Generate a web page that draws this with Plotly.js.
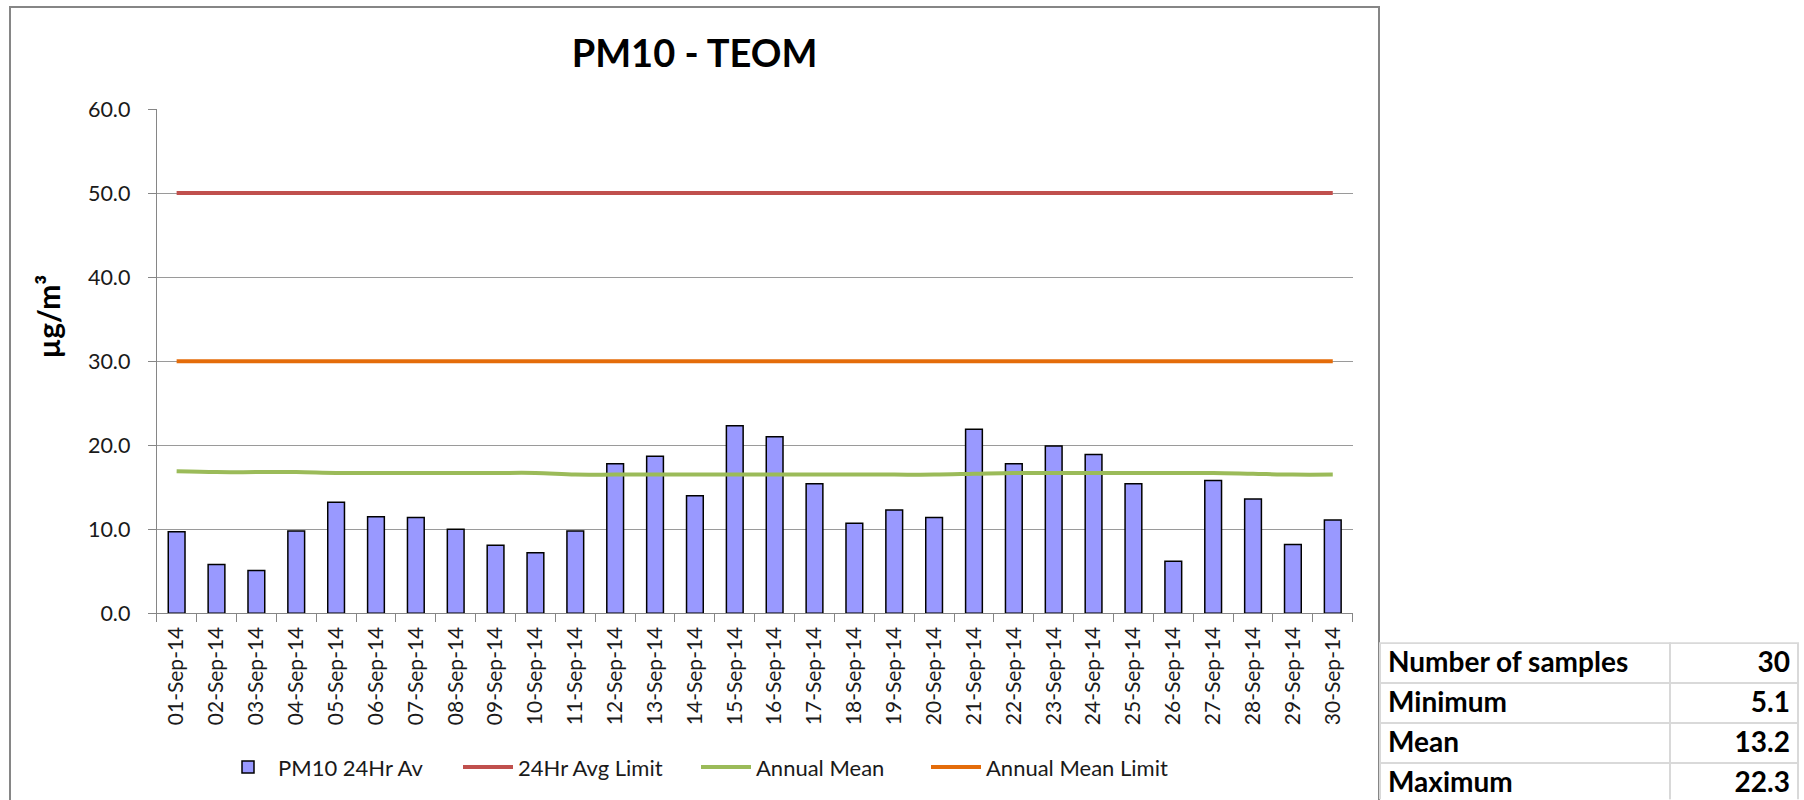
<!DOCTYPE html>
<html>
<head>
<meta charset="utf-8">
<script src="https://cdn.plot.ly/plotly-3.0.1.min.js"></script>
<style>html,body{margin:0;padding:0;background:#fff;}#chart{width:1804px;height:800px;}</style>
</head>
<body>
<div id="chart"></div>
<script>
// ---- data ----
const dates = ["01-Sep-14","02-Sep-14","03-Sep-14","04-Sep-14","05-Sep-14","06-Sep-14","07-Sep-14","08-Sep-14","09-Sep-14","10-Sep-14",
  "11-Sep-14","12-Sep-14","13-Sep-14","14-Sep-14","15-Sep-14","16-Sep-14","17-Sep-14","18-Sep-14","19-Sep-14","20-Sep-14",
  "21-Sep-14","22-Sep-14","23-Sep-14","24-Sep-14","25-Sep-14","26-Sep-14","27-Sep-14","28-Sep-14","29-Sep-14","30-Sep-14"];
const pm10 = [9.7,5.8,5.1,9.8,13.2,11.5,11.4,10.0,8.1,7.2,
  9.8,17.8,18.7,14.0,22.3,21.0,15.4,10.7,12.3,11.4,
  21.9,17.8,19.9,18.9,15.4,6.2,15.8,13.6,8.2,11.1];
const limit24 = [50,50,50,50,50,50,50,50,50,50,50,50,50,50,50,50,50,50,50,50,50,50,50,50,50,50,50,50,50,50];
const annualMean = [16.9,16.8,16.8,16.8,16.7,16.7,16.7,16.7,16.7,16.7,
  16.5,16.5,16.5,16.5,16.5,16.5,16.5,16.5,16.5,16.5,
  16.6,16.7,16.7,16.7,16.7,16.7,16.7,16.6,16.5,16.5];
const annualLimit = [30,30,30,30,30,30,30,30,30,30,30,30,30,30,30,30,30,30,30,30,30,30,30,30,30,30,30,30,30,30];
const seriesNames = ["PM10 24Hr Av","24Hr Avg Limit","Annual Mean","Annual Mean Limit"];
const statLabels = ["Number of samples","Minimum","Mean","Maximum"];
const statValues = ["30","5.1","13.2","22.3"];

// ---- geometry (px in 1804x800) ----
const W = 1804, H = 800;
const px = v => v / W, py = v => 1 - v / H;
const FONT = "Lato, 'Open Sans', sans-serif";
const TXT = "#1a1a1a";

const traces = [
  {type:"bar", x:dates, y:pm10, name:seriesNames[0], legend:"legend",
   marker:{color:"#9999FF", line:{color:"#000000", width:1.5}}},
  {type:"scatter", mode:"lines", x:dates, y:limit24, name:seriesNames[1], legend:"legend2",
   line:{color:"#C0504D", width:4}},
  {type:"scatter", mode:"lines", x:dates, y:annualMean, name:seriesNames[2], legend:"legend3",
   line:{color:"#9BBB59", width:4, shape:"spline", smoothing:1}},
  {type:"scatter", mode:"lines", x:dates, y:annualLimit, name:seriesNames[3], legend:"legend4",
   line:{color:"#E46C0A", width:4}},
  {type:"table",
   domain:{x:[px(1380), px(1799)], y:[0, py(643.3)]},
   columnwidth:[291,128],
   header:{values:[statLabels[0], statValues[0]], height:40,
     align:["left","right"], line:{color:"#d9d9d9", width:2}, fill:{color:"#ffffff"},
     font:{family:FONT, size:28, color:"#000", weight:"bold"}},
   cells:{values:[statLabels.slice(1), statValues.slice(1)], height:40,
     align:["left","right"], line:{color:"#d9d9d9", width:2}, fill:{color:"#ffffff"},
     font:{family:FONT, size:28, color:"#000", weight:"bold"}}}
];

const legBase = {orientation:"h", yanchor:"middle", y:py(767.3), xanchor:"left",
  font:{family:FONT, size:22, color:TXT}, itemwidth:50, bgcolor:"rgba(0,0,0,0)"};

const layout = {
  width:W, height:H,
  margin:{l:0, r:0, t:0, b:0},
  paper_bgcolor:"#ffffff", plot_bgcolor:"#ffffff",
  font:{family:FONT, color:TXT},
  title:{text:"PM10 - TEOM", x:px(694.5), xanchor:"center", y:py(54), yanchor:"middle",
    xref:"paper", yref:"paper",
    font:{family:FONT, size:38, color:"#000", weight:"bold"}},
  bargap:0.58,
  showlegend:true,
  legend:Object.assign({}, legBase, {x:px(218)}),
  legend2:Object.assign({}, legBase, {x:px(458)}),
  legend3:Object.assign({}, legBase, {x:px(696)}),
  legend4:Object.assign({}, legBase, {x:px(926)}),
  xaxis:{domain:[px(156.7), px(1352.7)], type:"category", tickangle:-90,
    ticks:"outside", tickson:"boundaries", ticklen:8, tickcolor:"#868686", tickwidth:1,
    ticklabelstandoff:4,
    showline:true, linecolor:"#868686", linewidth:1, showgrid:false,
    tickfont:{family:FONT, size:21, color:TXT}, fixedrange:true},
  yaxis:{domain:[py(613.3), py(109)], range:[0,60], dtick:10, tickformat:".1f",
    ticks:"outside", ticklen:8, tickcolor:"#868686", tickwidth:1,
    ticklabelstandoff:13,
    showline:true, linecolor:"#868686", linewidth:1,
    showgrid:true, gridcolor:"#9a9a9a", gridwidth:1, zeroline:false,
    tickfont:{family:FONT, size:21.5, color:TXT}, fixedrange:true},
  annotations:[
    {text:"µg/m³", xref:"paper", yref:"paper", x:px(48), y:py(316.6),
     xanchor:"center", yanchor:"middle", textangle:-90, showarrow:false,
     font:{family:FONT, size:30, color:"#000", weight:"bold"}}
  ],
  shapes:[
    {type:"rect", xref:"paper", yref:"paper", x0:px(10), x1:px(1379), y0:-0.1, y1:py(7),
     line:{color:"#868686", width:2}, fillcolor:"rgba(0,0,0,0)", layer:"below"}
  ]
};

Plotly.newPlot("chart", traces, layout, {displayModeBar:false, staticPlot:true});
</script>
</body>
</html>
